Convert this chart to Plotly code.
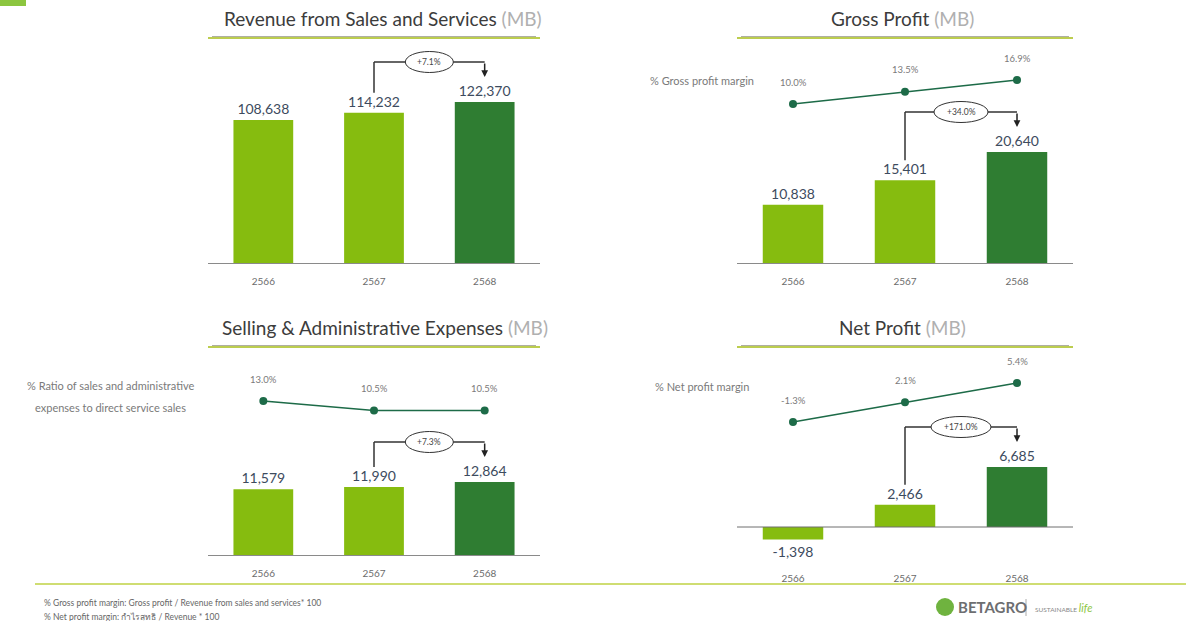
import plotly.graph_objects as go

W, H = 1186, 621

# ---------------- data ----------------
years = ["2566", "2567", "2568"]
revenue = [108638, 114232, 122370]
gross_profit = [10838, 15401, 20640]
gross_margin = [10.0, 13.5, 16.9]
sga = [11579, 11990, 12864]
sga_ratio = [13.0, 10.5, 10.5]
net_profit = [-1398, 2466, 6685]
net_margin = [-1.3, 2.1, 5.4]
growth = ["+7.1%", "+34.0%", "+7.3%", "+171.0%"]
titles = ["Revenue from Sales and Services", "Gross Profit",
          "Selling & Administrative Expenses", "Net Profit"]
unit = "(MB)"
line_names = [None, ["% Gross profit margin"],
              ["% Ratio of sales and administrative", "expenses to direct service sales"],
              ["% Net profit margin"]]
footnotes = ["% Gross profit margin: Gross profit / Revenue from sales and services* 100",
             "% Net profit margin: กำไรสุทธิ / Revenue * 100"]

# ---------------- style ----------------
LIME = "#86bc0f"
DARK = "#2f7d32"
LINEC = "#1d6b48"
LABEL = "#3d4b5e"
FONT = "Lato"
bar_colors = [LIME, LIME, DARK]


def X(px):
    return px / W


def Y(py):
    return 1 - py / H


def lin_range(top_px, bot_px, v1, p1, v2, p2):
    s = (p1 - p2) / (v2 - v1)  # px per unit
    lo = v1 - (bot_px - p1) / s
    hi = v1 + (p1 - top_px) / s
    return [lo, hi], s


# panel layout (pixel geometry)
panels = [
    dict(bars=revenue, line=None, xd=(208, 540), yd=(45, 263), base=263, top=102,
         title_c=383, title_y=18, ul=38, lp=None),
    dict(bars=gross_profit, line=gross_margin, xd=(737, 1073), yd=(45, 263), base=263, top=152,
         title_c=902, title_y=18, ul=38, lp=((10.0, 104), (16.9, 80)),
         lab=[(756, 80, "right")]),
    dict(bars=sga, line=sga_ratio, xd=(208, 540), yd=(355, 555), base=555, top=482,
         title_c=385, title_y=327, ul=347, lp=((13.0, 401), (10.5, 410.5)),
         lab=[(110, 385, "center"), (110, 407, "center")]),
    dict(bars=net_profit, line=net_margin, xd=(737, 1073), yd=(355, 560), base=527, top=467,
         title_c=902, title_y=327, ul=347, lp=((-1.3, 422), (5.4, 383)),
         lab=[(751, 386, "right")]),
]

fig = go.Figure()
layout = dict(width=W, height=H, margin=dict(l=0, r=0, t=0, b=0),
              paper_bgcolor="white", plot_bgcolor="white", showlegend=False,
              font=dict(family=FONT))
shapes = []
annotations = []

for i, p in enumerate(panels):
    n = i + 1
    xa = "x" if n == 1 else f"x{n}"
    ya = "y" if n == 1 else f"y{n}"
    xkey = "xaxis" if n == 1 else f"xaxis{n}"
    ykey = "yaxis" if n == 1 else f"yaxis{n}"
    vals = p["bars"]
    yr, s = lin_range(p["yd"][0], p["yd"][1], 0, p["base"], max(vals), p["top"])

    fig.add_trace(go.Bar(
        x=[0, 1, 2], y=vals, xaxis=xa, yaxis=ya, width=0.54,
        marker=dict(color=bar_colors, line=dict(width=0)),
        text=[f"{v:,}" for v in vals], textposition="outside", cliponaxis=False,
        textfont=dict(size=14, color=LABEL, family=FONT), hoverinfo="skip"))

    layout[xkey] = dict(domain=[X(p["xd"][0]), X(p["xd"][1])], anchor=ya,
                        range=[-0.5, 2.5], tickvals=[0, 1, 2], ticktext=years,
                        showline=(n != 4), linecolor="#8a8a8a", linewidth=1,
                        ticks="outside", ticklen=9, tickcolor="rgba(0,0,0,0)",
                        tickfont=dict(size=10, color="#6b6b6b", family=FONT),
                        showgrid=False, zeroline=False, fixedrange=True)
    layout[ykey] = dict(domain=[Y(p["yd"][1]), Y(p["yd"][0])], anchor=xa, range=yr,
                        visible=False, fixedrange=True)

    if n == 4:
        shapes.append(dict(type="line", xref=f"{xa} domain", yref=ya, x0=0, x1=1, y0=0, y1=0,
                           line=dict(color="#6e6e6e", width=1)))

    # growth bracket
    level = vals[2] + 40 / s
    lbot = vals[1] + 20 / s
    tip = vals[2] + 25 / s
    spacing = (p["xd"][1] - p["xd"][0]) / 3
    ew = (len(growth[i]) * 6 + 18) / 2 / spacing
    shapes.append(dict(type="line", xref=xa, yref=ya, x0=1, x1=1, y0=lbot, y1=level,
                       line=dict(color="#333333", width=1.5)))
    shapes.append(dict(type="line", xref=xa, yref=ya, x0=1, x1=2, y0=level, y1=level,
                       line=dict(color="#333333", width=1.5)))
    shapes.append(dict(type="circle", xref=xa, yref=ya, x0=1.5 - ew, x1=1.5 + ew,
                       y0=level - 10.5 / s, y1=level + 10.5 / s, fillcolor="white",
                       line=dict(color="#333333", width=1)))
    annotations.append(dict(xref=xa, yref=ya, x=1.5, y=level, text=growth[i], showarrow=False,
                            font=dict(size=8.5, color="#444", family=FONT)))
    annotations.append(dict(xref=xa, yref=ya, x=2, y=tip, text="", showarrow=True,
                            arrowhead=2, arrowsize=0.9, arrowwidth=1.5, arrowcolor="#222",
                            ax=0, ay=-15))

    # margin line
    if p["line"] is not None:
        lkey = f"yaxis{n + 4}"
        la = f"y{n + 4}"
        (v1, p1), (v2, p2) = p["lp"]
        lr, _ = lin_range(p["yd"][0], p["yd"][1], v1, p1, v2, p2)
        layout[lkey] = dict(overlaying=ya, anchor=xa, range=lr, visible=False, fixedrange=True)
        fig.add_trace(go.Scatter(
            x=[0, 1, 2], y=p["line"], xaxis=xa, yaxis=la, mode="lines+markers",
            line=dict(color=LINEC, width=1.6), marker=dict(color=LINEC, size=8),
            cliponaxis=False, hoverinfo="skip"))
        for k, v in enumerate(p["line"]):
            annotations.append(dict(xref=xa, yref=la, x=k, y=v, yshift=22, text=f"{v:.1f}%",
                                    showarrow=False, font=dict(size=9.5, color="#7a7a7a", family=FONT)))
        for (lx, ly, al), txt in zip(p["lab"], line_names[n - 1]):
            annotations.append(dict(xref="paper", yref="paper", x=X(lx), y=Y(ly), text=txt,
                                    xanchor=al, yanchor="middle", showarrow=False,
                                    font=dict(size=11, color="#7a7a7a", family=FONT)))

    # title and underline
    annotations.append(dict(xref="paper", yref="paper", x=X(p["title_c"]), y=Y(p["title_y"]),
                            xanchor="center", yanchor="middle", showarrow=False,
                            text=f"{titles[i]} <span style='color:#b0b0b0'>{unit}</span>",
                            font=dict(size=19, color="#3c3c3c", family=FONT)))
    shapes.append(dict(type="line", xref="paper", yref="paper", x0=X(p["xd"][0]), x1=X(p["xd"][1]),
                       y0=Y(p["ul"]), y1=Y(p["ul"]), line=dict(color="#bccd4f", width=2)))
    shapes.append(dict(type="line", xref="paper", yref="paper", x0=X(p["xd"][0] + 4), x1=X(p["xd"][1] - 4),
                       y0=Y(p["ul"] - 1.5), y1=Y(p["ul"] - 1.5), line=dict(color="#9a9a8a", width=0.8)))

# corner accent, footer line
shapes.append(dict(type="rect", xref="paper", yref="paper", x0=0, x1=X(26), y0=Y(6), y1=1,
                   fillcolor="#8cc63f", line=dict(width=0)))
shapes.append(dict(type="line", xref="paper", yref="paper", x0=X(35), x1=1, y0=Y(584), y1=Y(584),
                   line=dict(color="#cfdd72", width=2)))
# footnotes
for k, t in enumerate(footnotes):
    annotations.append(dict(xref="paper", yref="paper", x=X(42), y=Y(603 + 14 * k), text=t,
                            xanchor="left", yanchor="middle", showarrow=False,
                            font=dict(size=8.5, color="#666", family=FONT)))
# logo
shapes.append(dict(type="circle", xref="paper", yref="paper", x0=X(936), x1=X(954),
                   y0=Y(616), y1=Y(598), fillcolor="#6fb33f", line=dict(width=0)))
annotations.append(dict(xref="paper", yref="paper", x=X(956), y=Y(607), text="<b>BETAGRO</b>",
                        xanchor="left", yanchor="middle", showarrow=False,
                        font=dict(size=15, color="#6d6e71", family=FONT)))
shapes.append(dict(type="line", xref="paper", yref="paper", x0=X(1026), x1=X(1026),
                   y0=Y(599), y1=Y(616), line=dict(color="#aaaaaa", width=1)))
annotations.append(dict(xref="paper", yref="paper", x=X(1033), y=Y(607),
                        text="SUSTAINABLE <i><span style='color:#8cc63f;font-size:11px'>life</span></i>",
                        xanchor="left", yanchor="middle", showarrow=False,
                        font=dict(size=6.5, color="#888", family=FONT)))

layout["shapes"] = shapes
layout["annotations"] = annotations
fig.update_layout(**layout)
fig.write_html("out.html")
